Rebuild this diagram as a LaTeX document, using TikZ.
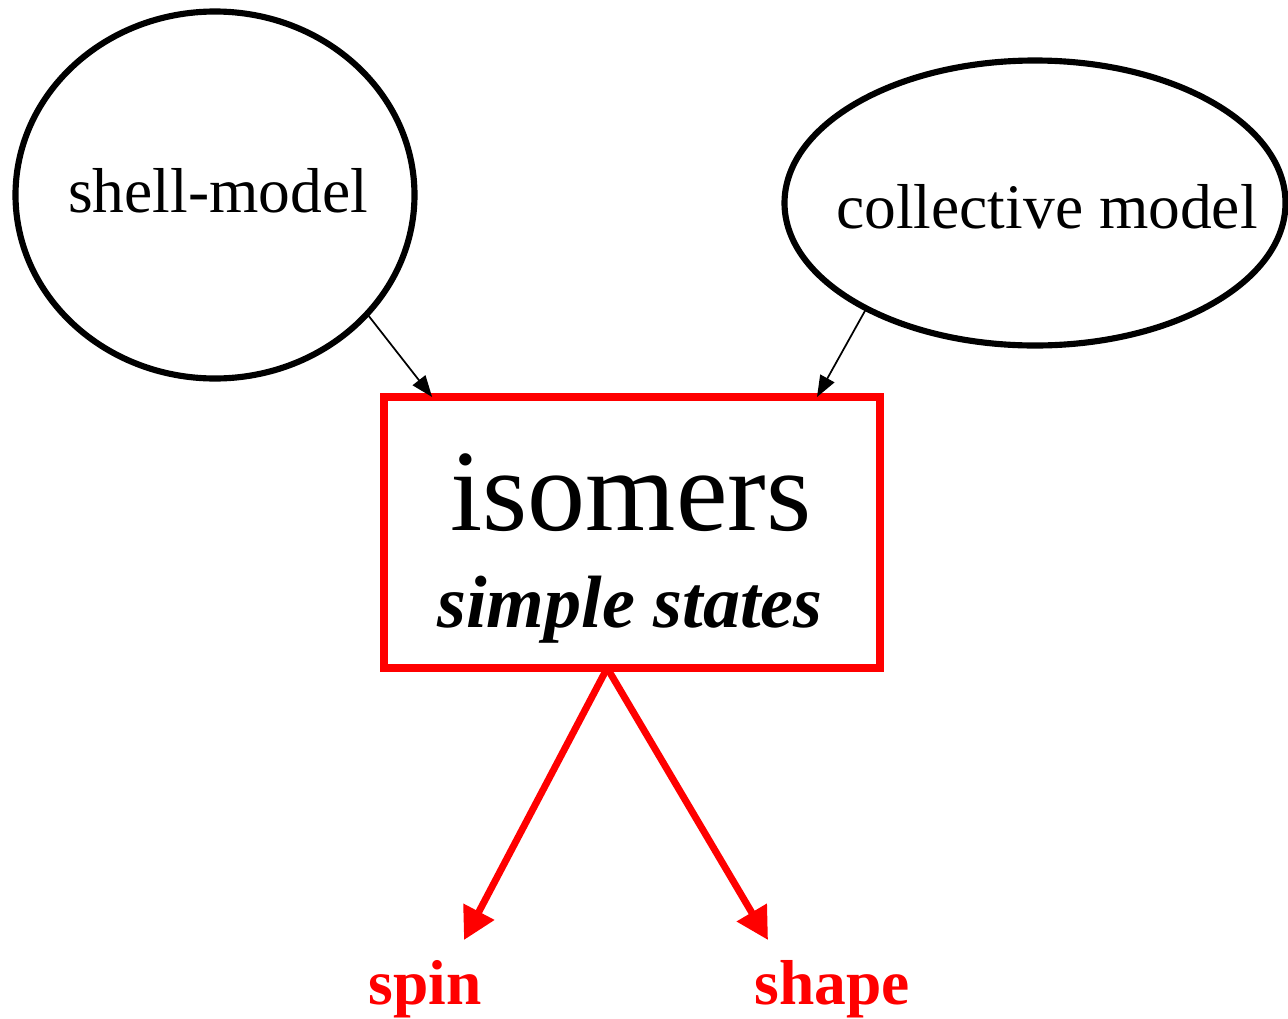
\documentclass[tikz,border=0pt]{standalone}
\usepackage{fontspec}
\setmainfont{Liberation Serif}
\usetikzlibrary{shapes.geometric,arrows.meta,calc}
\definecolor{boxred}{RGB}{255,0,0}
\tikzset{
  model/.style={ellipse, draw=black, line width=4.6pt, inner sep=0pt, outer sep=0pt},
  mainbox/.style={rectangle, draw=boxred, line width=5.6pt, inner sep=0pt, outer sep=0pt},
  label/.style={inner sep=0pt, outer sep=0pt, anchor=base},
  thinarrow/.style={draw=black, line width=1.3pt, -{Triangle[length=16pt,width=12pt]}},
  redarrow/.style={draw=boxred, line width=5.2pt, -{Triangle[length=24pt,width=25pt]}},
  result/.style={label, text=boxred, font=\fontsize{47.6}{50}\selectfont\bfseries}
}
\begin{document}
\begin{tikzpicture}[x=0.75pt, y=-0.75pt]
  \useasboundingbox (0,0) rectangle (1288,1018);

  % theory ellipses
  \node[model, minimum width=399*0.75pt, minimum height=367*0.75pt] (shell) at (215,195) {};
  \node[model, minimum width=501*0.75pt, minimum height=285*0.75pt] (coll) at (1035,203) {};
  \node[label, font=\fontsize{47.6}{50}\selectfont] (shelltxt) at (218,212) {shell-model};
  \node[label, font=\fontsize{47.6}{50}\selectfont] (colltxt) at (1047,228) {collective model};

  % central box
  \node[mainbox, minimum width=496*0.75pt, minimum height=271*0.75pt] (box) at (632,532.5) {};
  \node[label, font=\fontsize{87}{90}\selectfont] (iso) at (631,530) {isomers};
  \node[label, font=\fontsize{55.6}{58}\selectfont\bfseries\itshape] (simple) at (630,627) {simple states};

  % outcomes
  \node[result] (spin) at (425,1004) {spin};
  \node[result] (shape) at (832,1004) {shape};

  % influences into the box
  \draw[thinarrow] (shell.-38.4) -- ($(box.north west)!0.097!(box.north east)$);
  \draw[thinarrow] (coll.212.7) -- ($(box.north west)!0.873!(box.north east)$);

  % consequences out of the box
  \coordinate (split) at ($(box.south west)!0.45!(box.south east)$);
  \coordinate (spintip) at (464,940);
  \coordinate (shapetip) at (768,940);
  \draw[redarrow] (split) -- (spintip);
  \draw[redarrow] (split) -- (shapetip);
\end{tikzpicture}
\end{document}
